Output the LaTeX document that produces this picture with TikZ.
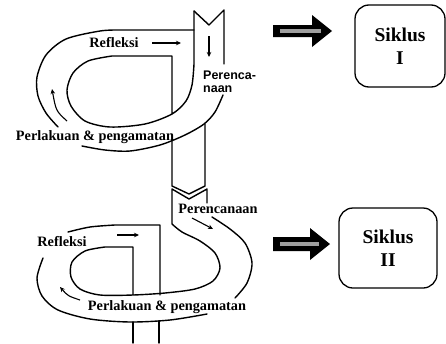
\documentclass[tikz,border=0pt]{standalone}
\usepackage{fontspec}
\setmainfont{Liberation Serif}
\newfontfamily\lsans{Liberation Sans}
\usetikzlibrary{arrows.meta}
\begin{document}
\begin{tikzpicture}[x=1pt,y=-1pt,
  band/.style={line width=1.4pt, line join=round, line cap=round},
  flow/.style={line width=1.1pt, -{Stealth[length=5pt,width=4.5pt]}},
  lab/.style={font=\fontsize{14.3}{16}\selectfont\bfseries, inner sep=0pt},
  slab/.style={font=\lsans\fontsize{12.5}{14}\selectfont\bfseries, inner sep=0pt, anchor=west},
  cycbox/.style={draw, line width=1.3pt, rounded corners=14pt, align=center,
    font=\fontsize{19.5}{23.4}\selectfont\bfseries, inner sep=0pt},
  blockarrow/.style={fill=black},
  stripe/.style={draw=gray!75, line width=3.5pt}]
\useasboundingbox (0,0) rectangle (446,343);

% ---------- top cycle ----------
\draw[band] (194,11) -- (209,25) -- (224,10) -- (224,64);
\draw[band] (194,11) -- (194,64) -- plot[smooth] coordinates {(194,64) (192,85) (186,101) (172,114) (145,124) (110,127) (85,121) (71,106) (67,90) (73,73) (88,61) (112,56)} -- (172,56) -- (172,114);
\draw[band] plot[smooth] coordinates {(223,95) (215,112) (204,124) (185,135) (160,145) (130,151) (105,150) (82,146)};
\draw[band] plot[smooth] coordinates {(58,127) (46,113) (38,96) (37,77) (46,55) (66,39) (100,31) (120,30)} -- (194,30);
\draw[flow] (67,121) .. controls (56,111) .. (52,89);
\draw[flow] (152,43) -- (181,43);
\draw[flow] (209,36) -- (209,57);
\node[lab] (r1) at (114,43) {Refleksi};
\node[slab] (p1a) at (203,75) {Perenca-};
\node[slab] (p1b) at (203,89) {naan};
\node[lab] (a1) at (95,137) {Perlakuan \& pengamatan};

% ---------- connecting column ----------
\draw[band] (172,141) -- (172,186) -- (189,194) -- (205,186) -- (205,124);
\draw[band] (207,203) -- (207,189) -- (189,199) -- (172,189) -- (172,224) -- plot[smooth] coordinates {(172,224) (182,232) (200,241) (215,253) (220,268) (213,281) (195,289) (165,293) (133,295) (100,295) (80,289) (71,277) (72,262) (85,251) (105,247)} -- (133,247) -- (133,295);

% ---------- bottom cycle ----------
\draw[band] plot[smooth] coordinates {(212,217) (230,229) (245,243) (252,263) (247,283) (235,298)};
\draw[band] plot[smooth] coordinates {(207,314) (170,320) (130,322) (90,319) (58,310) (42,296) (37,278) (43,258)};
\draw[band] plot[smooth] coordinates {(68,232) (90,227) (115,225)} -- (160,225) -- (160,295);
\draw[band] (133,322) -- (133,343);
\draw[band] (159,321) -- (159,343);
\draw[flow] (192,218) -- (213,229);
\draw[flow] (117,235) -- (139,235);
\draw[flow] (80,300) .. controls (68,296) .. (60,287);
\node[lab] (p2) at (218,209) {Perencanaan};
\node[lab] (r2) at (62,242) {Refleksi};
\node[lab] (a2) at (167,307) {Perlakuan \& pengamatan};

% ---------- cycle boxes ----------
\node[cycbox, minimum width=90pt, minimum height=82pt] (s1) at (400,46) {Siklus\\I};
\node[cycbox, minimum width=98pt, minimum height=80pt] (s2) at (388,248) {Siklus\\II};

% ---------- block arrows ----------
\fill[blockarrow] (273,25) -- (312,25) -- (312,15) -- (332,31) -- (312,47) -- (312,37) -- (273,37) -- cycle;
\draw[stripe] (280,31) -- (321,31);
\fill[blockarrow] (273,237) -- (310,237) -- (310,228) -- (330,244) -- (310,260) -- (310,251) -- (273,251) -- cycle;
\draw[stripe] (280,244) -- (319,244);
\end{tikzpicture}
\end{document}
